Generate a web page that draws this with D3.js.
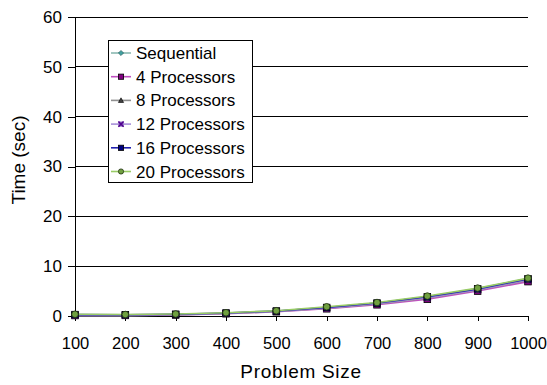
<!DOCTYPE html>
<html>
<head>
<meta charset="utf-8">
<script src="https://cdn.jsdelivr.net/npm/d3@7"></script>
<style>
  body { margin: 0; background: #fff; }
  svg { font-family: "Liberation Sans", Arial, sans-serif; }
</style>
</head>
<body>
<svg id="chart" width="547" height="385"></svg>
<script>
// Data
const sizes = [100, 200, 300, 400, 500, 600, 700, 800, 900, 1000];
const yTicks = [0, 10, 20, 30, 40, 50, 60];
const seriesNames = ["Sequential", "4 Processors", "8 Processors", "12 Processors", "16 Processors", "20 Processors"];
const sequential = [0.05, 0.08, 0.22, 0.5, 0.95, 1.7, 2.6, 3.85, 5.5, 7.5];
const proc4 = [0.1, 0.12, 0.2, 0.45, 0.85, 1.45, 2.25, 3.35, 5.0, 6.9];
const proc8 = [0.2, 0.2, 0.28, 0.5, 0.9, 1.55, 2.4, 3.6, 5.2, 7.2];
const proc12 = [0.22, 0.22, 0.3, 0.55, 0.95, 1.6, 2.5, 3.7, 5.3, 7.3];
const proc16 = [0.28, 0.26, 0.35, 0.6, 1.0, 1.7, 2.6, 3.85, 5.45, 7.45];
const proc20 = [0.35, 0.3, 0.4, 0.65, 1.05, 1.85, 2.7, 4.0, 5.6, 7.6];

const values = [sequential, proc4, proc8, proc12, proc16, proc20];
const lineColors = ["#8ab8b0", "#c050c0", "#909090", "#a890d8", "#2020b0", "#99cc66"];
const markColors = ["#40a0a0", "#800080", "#404040", "#500090", "#000080", "#70a040"];
const markShapes = ["diamond", "square", "triangle", "cross", "square", "circle"];

const svg = d3.select("#chart");

const x = d3.scalePoint().domain(sizes).range([75, 528]);
const y = d3.scaleLinear().domain([0, 60]).range([316, 17]);

// Gridlines
svg.append("g")
  .selectAll("line")
  .data(yTicks.filter(d => d > 0))
  .enter().append("line")
  .attr("x1", 75).attr("x2", 528)
  .attr("y1", d => y(d)).attr("y2", d => y(d))
  .attr("stroke", "#000").attr("stroke-width", 1).attr("shape-rendering", "crispEdges");

// Y axis
const yAxis = svg.append("g")
  .attr("transform", "translate(75,0)")
  .call(d3.axisLeft(y).tickValues(yTicks).tickSize(7).tickPadding(6).tickSizeOuter(0));
yAxis.select(".domain").attr("stroke", "#000").attr("shape-rendering", "crispEdges");
yAxis.selectAll(".tick line").attr("shape-rendering", "crispEdges");
yAxis.selectAll("text").style("font-size", "17px").attr("fill", "#000");

// X axis
const xAxis = svg.append("g")
  .attr("transform", "translate(0,316)")
  .call(d3.axisBottom(x).tickSize(5).tickPadding(0).tickSizeOuter(0));
xAxis.select(".domain").attr("stroke", "#000").attr("shape-rendering", "crispEdges");
xAxis.selectAll(".tick line").attr("shape-rendering", "crispEdges");
xAxis.selectAll("text")
  .attr("dy", null).attr("y", 33)
  .style("font-size", "16.5px").attr("fill", "#000");

// Axis titles
svg.append("text")
  .attr("x", 301).attr("y", 378)
  .attr("text-anchor", "middle")
  .style("font-size", "19px")
  .style("letter-spacing", "0.7px")
  .text("Problem Size");
svg.append("text")
  .attr("transform", "translate(25,160) rotate(-90)")
  .attr("text-anchor", "middle")
  .style("font-size", "19px")
  .text("Time (sec)");

function drawMarker(g, shape, fill, s) {
  if (shape === "diamond") {
    g.append("path").attr("d", `M0,${-s}L${s},0L0,${s}L${-s},0Z`)
      .attr("fill", fill).attr("stroke", "#205050").attr("stroke-width", 0.6);
  } else if (shape === "square") {
    g.append("rect").attr("x", -s).attr("y", -s).attr("width", 2 * s).attr("height", 2 * s)
      .attr("fill", fill).attr("stroke", "#000").attr("stroke-width", 0.8);
  } else if (shape === "triangle") {
    g.append("path").attr("d", `M0,${-s}L${s},${s * 0.8}L${-s},${s * 0.8}Z`)
      .attr("fill", fill).attr("stroke", "#000").attr("stroke-width", 0.6);
  } else if (shape === "cross") {
    g.append("rect").attr("x", -s).attr("y", -s).attr("width", 2 * s).attr("height", 2 * s)
      .attr("fill", "#9070c0").attr("stroke", "none");
    g.append("path").attr("d", `M${-s},${-s}L${s},${s}M${s},${-s}L${-s},${s}`)
      .attr("stroke", fill).attr("stroke-width", 1.6);
  } else if (shape === "circle") {
    g.append("circle").attr("r", s)
      .attr("fill", fill).attr("stroke", "#203010").attr("stroke-width", 0.8);
  }
}

// Lines and markers
const line = d3.line().x((d, i) => x(sizes[i])).y(d => y(d));
values.forEach((vals, k) => {
  svg.append("path")
    .datum(vals)
    .attr("d", line)
    .attr("fill", "none")
    .attr("stroke", lineColors[k])
    .attr("stroke-width", 1.6);
});
values.forEach((vals, k) => {
  vals.forEach((v, i) => {
    const g = svg.append("g").attr("transform", `translate(${x(sizes[i])},${y(v)})`);
    drawMarker(g, markShapes[k], markColors[k], markShapes[k] === "triangle" ? 3 : 3.3);
  });
});

// Legend
const legend = svg.append("g");
legend.append("rect")
  .attr("x", 108.5).attr("y", 40.5).attr("width", 144).attr("height", 142)
  .attr("fill", "#fff").attr("stroke", "#000").attr("stroke-width", 1);
seriesNames.forEach((name, k) => {
  const yy = 53 + k * 23.7;
  legend.append("line")
    .attr("x1", 111).attr("x2", 131).attr("y1", yy).attr("y2", yy)
    .attr("stroke", lineColors[k]).attr("stroke-width", 1.6);
  const g = legend.append("g").attr("transform", `translate(121,${yy})`);
  drawMarker(g, markShapes[k], markColors[k], 2.6);
  legend.append("text")
    .attr("x", 136).attr("y", yy + 6)
    .style("font-size", "17px")
    .text(name);
});
</script>
</body>
</html>
